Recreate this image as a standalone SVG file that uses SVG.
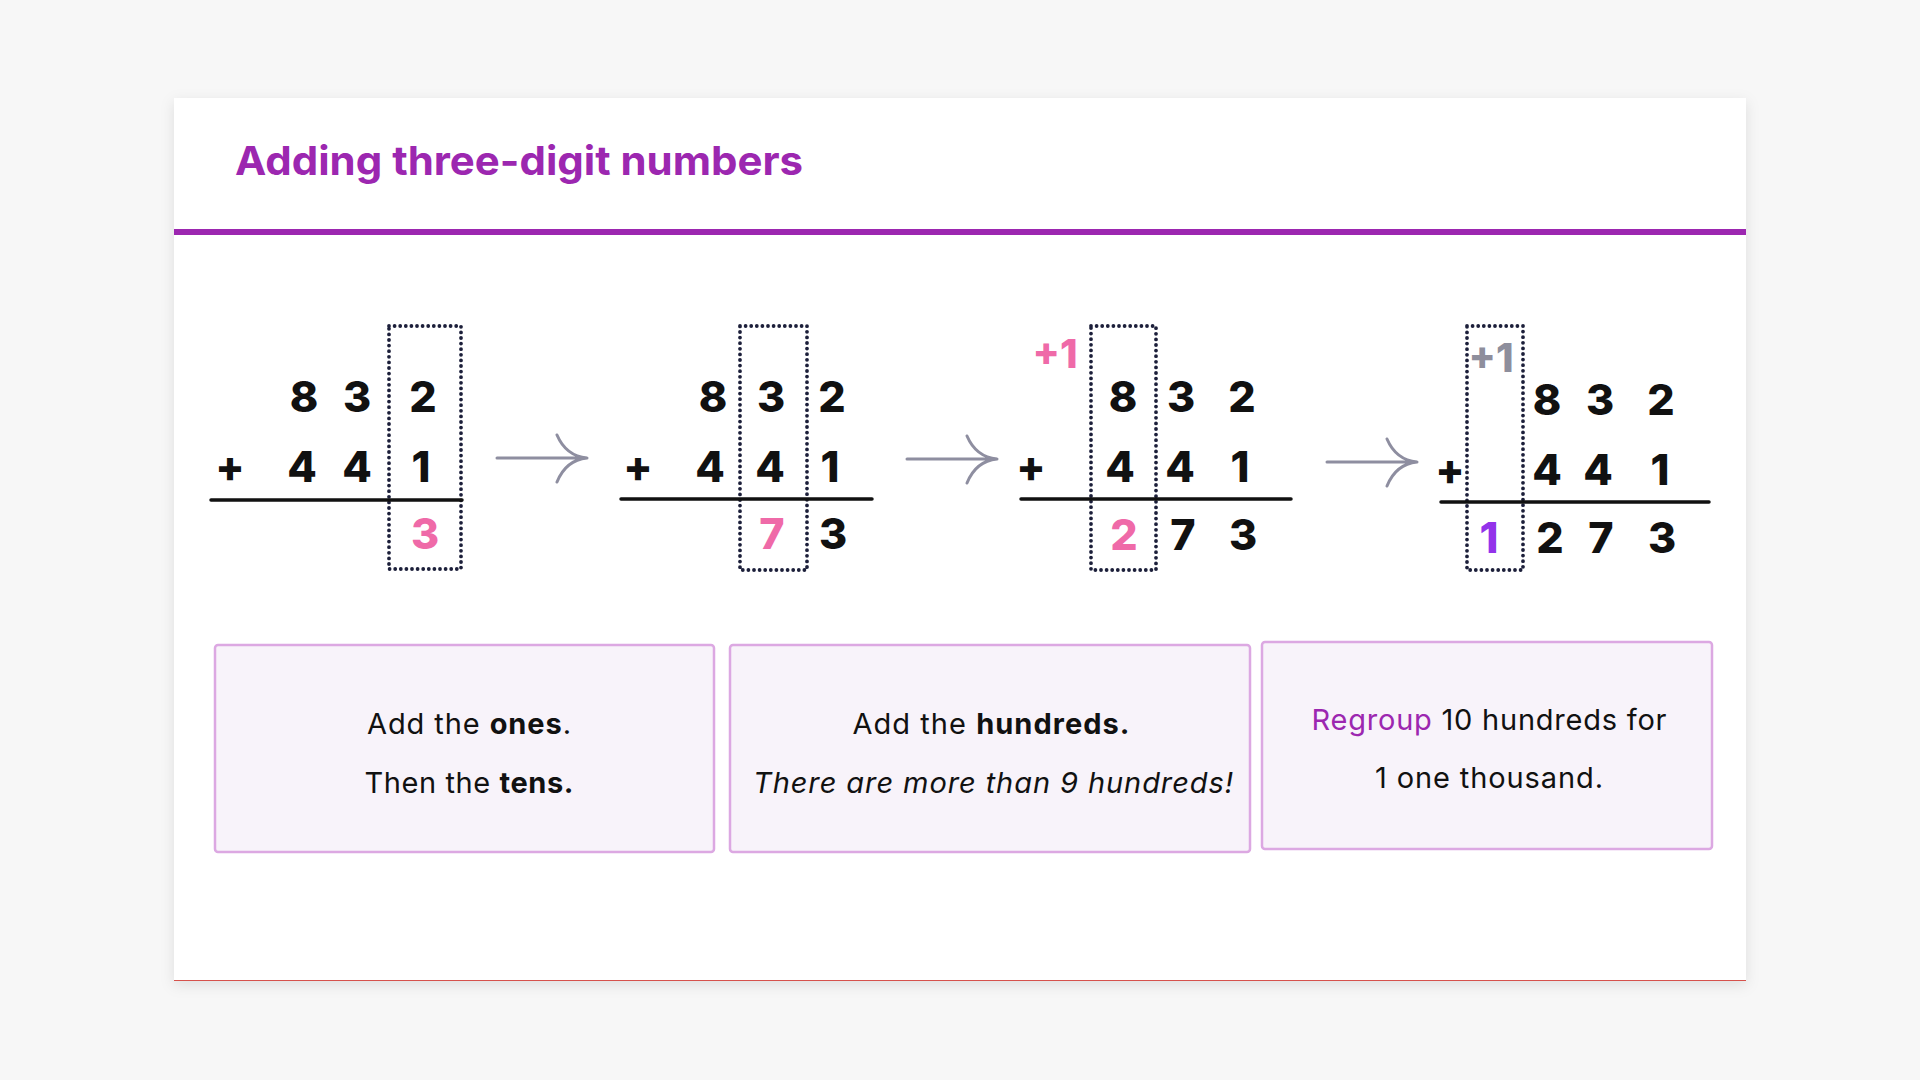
<svg xmlns="http://www.w3.org/2000/svg" width="1920" height="1080" viewBox="0 0 1920 1080">
<defs>
<filter id="shadow" x="-5%" y="-5%" width="110%" height="115%">
<feDropShadow dx="0" dy="4" stdDeviation="7" flood-color="#000" flood-opacity="0.10"/>
</filter>
<style>
.title{font-family:Inter,"Noto Sans",sans-serif;font-weight:700;font-size:40px;fill:#9c27b0}
.dg{font-family:Inter,"Noto Sans",sans-serif;font-weight:800;font-size:43px;fill:#111;text-anchor:middle}
.pink{fill:#ef6aa8}
.violet{fill:#9333ea}
.gray{fill:#8e8e9c}
.carry{font-size:40px}
.dots{fill:none;stroke:#1c1f3a;stroke-width:3.8;stroke-dasharray:0 5.6;stroke-linecap:round}
.rule{stroke:#111;stroke-width:3.5;stroke-linecap:round}
.arrow{fill:none;stroke:#8e8ea0;stroke-width:3;stroke-linecap:round}
.box{fill:#f8f3fa;stroke:#dca8e2;stroke-width:2.5}
.bt{font-family:Inter,"Noto Sans",sans-serif;font-size:29px;fill:#111;text-anchor:middle}
.b{font-weight:700}
.i{font-style:italic}
.pu{fill:#9c27b0}
</style>
</defs>
<rect x="0" y="0" width="1920" height="1080" fill="#f7f7f7"/>
<g id="card">
<rect x="174" y="98" width="1572" height="883" fill="#ffffff" filter="url(#shadow)"/>
<line x1="174" y1="980.5" x2="1746" y2="980.5" stroke="#d6524c" stroke-width="1"/>
</g>
<g id="header">
<text class="title" x="235" y="175" textLength="568" lengthAdjust="spacingAndGlyphs">Adding three-digit numbers</text>
<rect x="174" y="229" width="1572" height="6" fill="#9c27b0"/>
</g>
<g id="eq1">
<rect class="dots" x="389" y="326" width="72" height="243"/>
<line class="rule" x1="211" y1="500" x2="462" y2="500"/>
<text class="dg" x="304 357 423" y="412">832</text>
<text class="dg" x="230 302 357 421" y="482">+441</text>
<text class="dg pink" x="425" y="549">3</text>
</g>
<g id="eq2">
<rect class="dots" x="740" y="326" width="67" height="244"/>
<line class="rule" x1="621" y1="499" x2="872" y2="499"/>
<text class="dg" x="713 771 832" y="412">832</text>
<text class="dg" x="638 710 770 830" y="482">+441</text>
<text class="dg pink" x="772" y="549">7</text>
<text class="dg" x="833" y="549">3</text>
</g>
<g id="eq3">
<rect class="dots" x="1091" y="326" width="65" height="244"/>
<line class="rule" x1="1021" y1="499" x2="1291" y2="499"/>
<text class="dg pink carry" x="1055" y="368">+1</text>
<text class="dg" x="1123 1181 1242" y="412">832</text>
<text class="dg" x="1031 1120 1180 1240" y="482">+441</text>
<text class="dg pink" x="1124" y="550">2</text>
<text class="dg" x="1183 1243" y="550">73</text>
</g>
<g id="eq4">
<rect class="dots" x="1467" y="326" width="56" height="244"/>
<line class="rule" x1="1441" y1="502" x2="1709" y2="502"/>
<text class="dg gray carry" x="1491" y="372">+1</text>
<text class="dg" x="1547 1600 1661" y="415">832</text>
<text class="dg" x="1450 1547 1598 1660" y="485">+441</text>
<text class="dg violet" x="1489" y="553">1</text>
<text class="dg" x="1550 1601 1662" y="553">273</text>
</g>
<g id="connectors">
<path class="arrow" d="M497 458 H587 M557 435 Q566 456 587 458 Q566 460 557 482"/>
<path class="arrow" d="M907 459 H997 M967 436 Q976 457 997 459 Q976 461 967 483"/>
<path class="arrow" d="M1327 462 H1417 M1387 439 Q1396 460 1417 462 Q1396 464 1387 486"/>
</g>
<g id="note1">
<rect class="box" x="215" y="645" width="499" height="207" rx="3"/>
<text class="bt" x="469" y="734" textLength="204">Add the <tspan class="b">ones</tspan>.</text>
<text class="bt" x="469" y="793" textLength="209">Then the <tspan class="b">tens.</tspan></text>
</g>
<g id="note2">
<rect class="box" x="730" y="645" width="520" height="207" rx="3"/>
<text class="bt" x="991" y="734" textLength="277">Add the <tspan class="b">hundreds.</tspan></text>
<text class="bt i" x="993" y="793" textLength="480">There are more than 9 hundreds!</text>
</g>
<g id="note3">
<rect class="box" x="1262" y="642" width="450" height="207" rx="3"/>
<text class="bt" x="1489" y="730" textLength="355"><tspan class="pu">Regroup</tspan> 10 hundreds for</text>
<text class="bt" x="1489" y="788" textLength="228">1 one thousand.</text>
</g>
</svg>
